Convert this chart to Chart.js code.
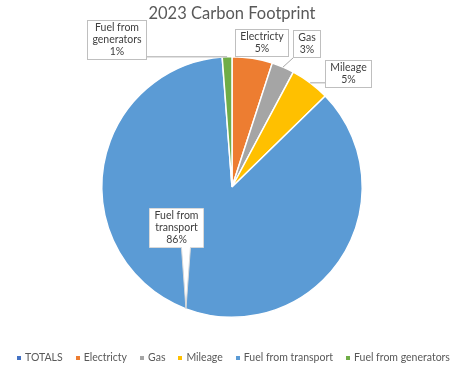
<!DOCTYPE html>
<html>
<head>
<meta charset="utf-8">
<script src="https://cdn.jsdelivr.net/npm/chart.js@4/dist/chart.umd.min.js"></script>
<style>
html,body{margin:0;padding:0;background:#fff;}
#wrap{width:460px;height:370px;position:relative;}
</style>
</head>
<body>
<div id="wrap"><canvas id="c" width="460" height="370"></canvas></div>
<script>
// ---- data ----
const chartTitle = '2023 Carbon Footprint';
const categories = ['TOTALS', 'Electricty', 'Gas', 'Mileage', 'Fuel from transport', 'Fuel from generators'];
const values = [0, 5.0, 2.8, 4.9, 86.1, 1.2];
const colors = ['#4472C4', '#ED7D31', '#A5A5A5', '#FFC000', '#5B9BD5', '#70AD47'];
const labelLines = [null, ['Electricty'], ['Gas'], ['Mileage'], ['Fuel from', 'transport'], ['Fuel from', 'generators']];

// ---- layout of callouts (offset of box centre from pie centre, px) ----
const calloutOffsets = [null, [29, -144.5], [74.5, -144], [115.5, -113.5], [-56.5, 40], [-115.5, -147.5]];
const calloutWedge = [false, false, false, false, true, false];

const FONT = 'Lato, "Open Sans", sans-serif';
const total = values.reduce((a, b) => a + b, 0);

const calloutPlugin = {
  id: 'callouts',
  afterDatasetsDraw(chart) {
    const ctx = chart.ctx;
    const meta = chart.getDatasetMeta(0);
    ctx.save();
    ctx.font = '10.5px ' + FONT;
    meta.data.forEach((arc, i) => {
      if (!labelLines[i]) return;
      const p = arc.getProps(['x', 'y', 'startAngle', 'endAngle', 'outerRadius'], true);
      const mid = (p.startAngle + p.endAngle) / 2;
      const ex = p.x + Math.cos(mid) * p.outerRadius;
      const ey = p.y + Math.sin(mid) * p.outerRadius;
      const lines = labelLines[i].concat([Math.round(values[i] / total * 100) + '%']);
      let w = 0;
      lines.forEach(l => { w = Math.max(w, ctx.measureText(l).width); });
      w = Math.round(w + 10);
      const lh = 12;
      const h = Math.round(lines.length * lh + 3);
      const cx = p.x + calloutOffsets[i][0];
      const cy = p.y + calloutOffsets[i][1];
      const L = Math.round(cx - w / 2) + 0.5, R = L + w, T = Math.round(cy - h / 2) + 0.5, B = T + h;
      ctx.lineWidth = 1;
      if (calloutWedge[i]) {
        const bx = Math.min(Math.max(ex, L + 6), R - 6);
        ctx.beginPath();
        ctx.moveTo(L, T); ctx.lineTo(R, T); ctx.lineTo(R, B);
        ctx.lineTo(bx + 4.5, B); ctx.lineTo(ex, ey); ctx.lineTo(bx - 4.5, B);
        ctx.lineTo(L, B); ctx.closePath();
        ctx.fillStyle = '#fff'; ctx.fill();
        ctx.strokeStyle = '#D9D9D9'; ctx.stroke();
      } else {
        const nx = Math.min(Math.max(ex, L), R);
        const ny = Math.min(Math.max(ey, T), B);
        if (Math.hypot(ex - nx, ey - ny) > 5) {
          ctx.beginPath();
          ctx.moveTo(nx, ny); ctx.lineTo(ex, ey);
          ctx.strokeStyle = '#A6A6A6'; ctx.stroke();
        }
        ctx.fillStyle = '#fff';
        ctx.fillRect(L, T, w, h);
        ctx.strokeStyle = '#BFBFBF';
        ctx.strokeRect(L, T, w, h);
      }
      ctx.fillStyle = '#404040';
      ctx.textAlign = 'center';
      ctx.textBaseline = 'middle';
      const y0 = (T + B) / 2 - (lines.length - 1) * lh / 2;
      lines.forEach((l, k) => ctx.fillText(l, (L + R) / 2, y0 + k * lh));
    });
    ctx.restore();
  }
};

const titleLegendPlugin = {
  id: 'titleLegend',
  afterDraw(chart) {
    const ctx = chart.ctx;
    ctx.save();
    ctx.fillStyle = '#595959';
    ctx.font = '16.5px ' + FONT;
    ctx.textAlign = 'center';
    ctx.textBaseline = 'middle';
    ctx.fillText(chartTitle, 232, 14);
    // legend
    ctx.font = '10.5px ' + FONT;
    const box = 4, gap = 4, pad = 13;
    const widths = categories.map(c => box + gap + ctx.measureText(c).width);
    const totalW = widths.reduce((a, b) => a + b, 0) + pad * (categories.length - 1);
    let x = 233.5 - totalW / 2;
    const y = 358;
    ctx.textAlign = 'left';
    categories.forEach((c, i) => {
      ctx.fillStyle = colors[i];
      ctx.fillRect(Math.round(x), y - 2, box, box);
      ctx.fillStyle = '#595959';
      ctx.fillText(c, x + box + gap, y);
      x += widths[i] + pad;
    });
    ctx.restore();
  }
};

new Chart(document.getElementById('c'), {
  type: 'pie',
  data: {
    labels: categories,
    datasets: [{
      data: values,
      backgroundColor: colors,
      borderColor: '#ffffff',
      borderWidth: 1.5
    }]
  },
  options: {
    responsive: false,
    animation: false,
    layout: { padding: { left: 4, right: 0, top: 56, bottom: 52 } },
    plugins: {
      legend: { display: false },
      title: { display: false },
      tooltip: { enabled: false }
    }
  },
  plugins: [calloutPlugin, titleLegendPlugin]
});
</script>
</body>
</html>
